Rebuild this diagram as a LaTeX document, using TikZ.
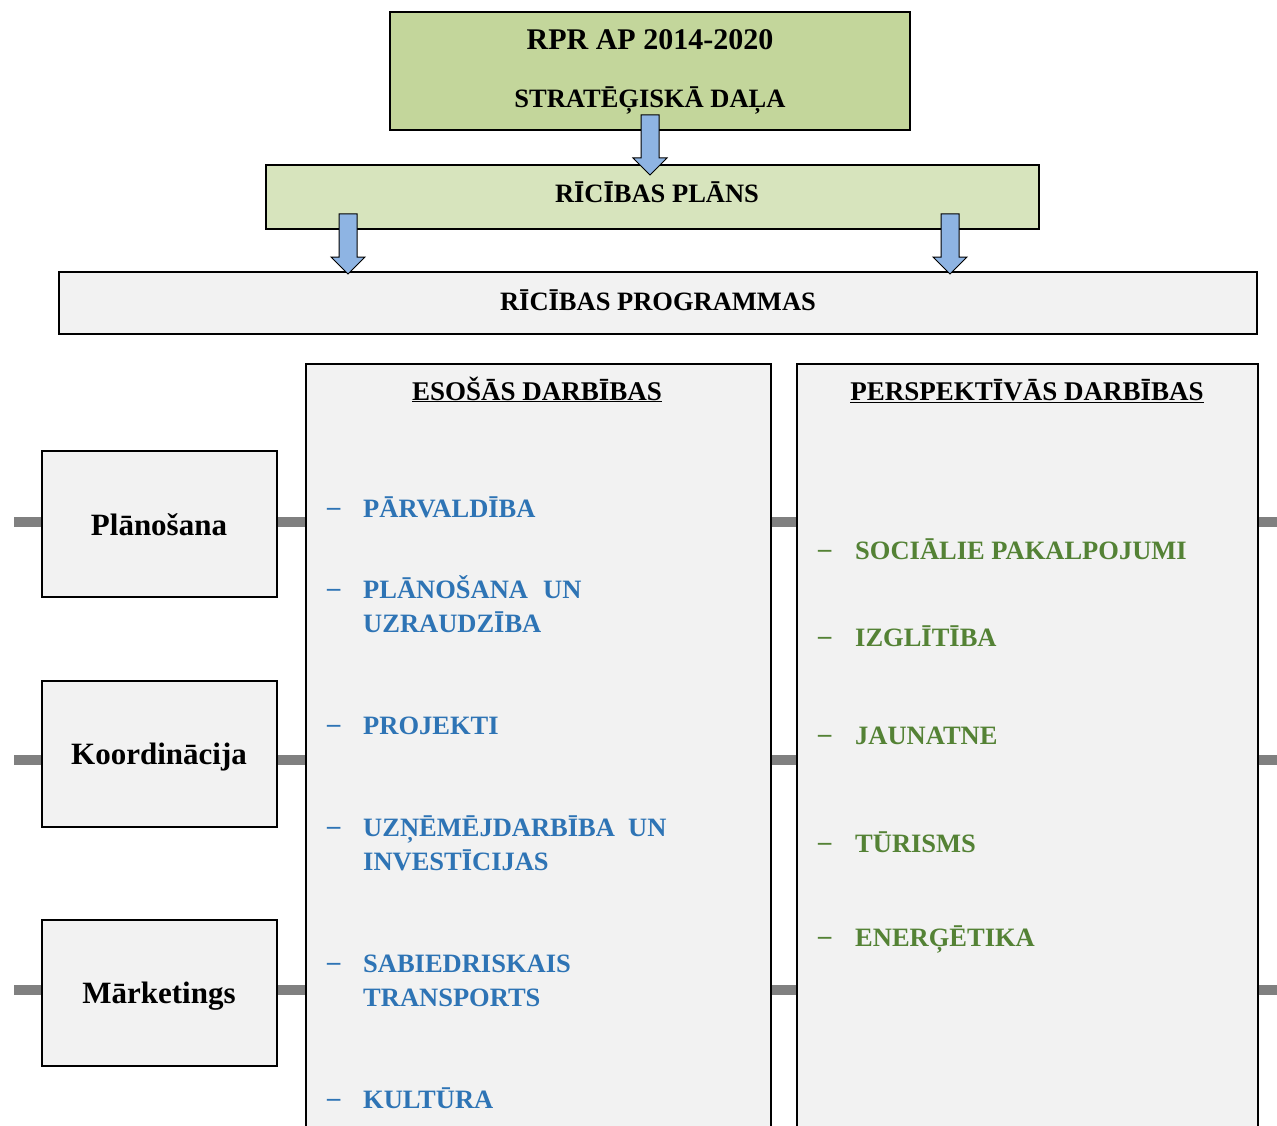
\documentclass[tikz,border=0pt]{standalone}
\usepackage{fontspec}
\setmainfont{Liberation Serif}
\definecolor{topgreen}{HTML}{C3D69B}
\definecolor{plangreen}{HTML}{D7E4BD}
\definecolor{boxgray}{HTML}{F2F2F2}
\definecolor{arrowblue}{HTML}{8EB4E3}
\definecolor{itemblue}{HTML}{2E74B5}
\definecolor{itemgreen}{HTML}{548235}
\definecolor{bargray}{HTML}{808080}
\begin{document}
\begin{tikzpicture}[x=1pt,y=-1pt,
  box/.style={draw=black,line width=1.6pt,inner sep=0pt},
  capt/.style={font=\fontsize{26.5}{30}\selectfont\bfseries,anchor=base,inner sep=0pt},
  lbl/.style={font=\fontsize{31}{34}\selectfont\bfseries,anchor=base,inner sep=0pt},
  blueitem/.style={font=\fontsize{26.5}{30}\selectfont\bfseries,text=itemblue,anchor=base west,inner sep=0pt},
  greenitem/.style={font=\fontsize{26.5}{30}\selectfont\bfseries,text=itemgreen,anchor=base west,inner sep=0pt},
  itemdash/.style={line width=2.5pt},
  bar/.style={draw=bargray,line width=10pt},
  downarrow/.style={fill=arrowblue,draw=black,line width=1pt,line join=miter}
]
\useasboundingbox (0,0) rectangle (1277,1126);

% gray connector bars (behind)
\coordinate (b1l) at (14,522);
\coordinate (b1r) at (1277,522);
\coordinate (b2l) at (14,760);
\coordinate (b2r) at (1277,760);
\coordinate (b3l) at (14,990);
\coordinate (b3r) at (1277,990);
\draw[bar] (b1l) -- (b1r);
\draw[bar] (b2l) -- (b2r);
\draw[bar] (b3l) -- (b3r);

% top boxes
\node[box,fill=topgreen,minimum width=520pt,minimum height=118pt] (top) at (650,71) {};
\node[box,fill=plangreen,minimum width=773pt,minimum height=64pt] (plan) at (652.5,197) {};
\node[box,fill=boxgray,minimum width=1198pt,minimum height=62pt] (prog) at (658,303) {};

\node[capt,font=\fontsize{30}{32}\selectfont\bfseries] (t1) at (650,50) {RPR AP 2014-2020};
\node[capt] (t2) at (650,108) {STRATĒĢISKĀ DAĻA};
\node[capt] (t3) at (657,203) {RĪCĪBAS PLĀNS};
\node[capt] (t4) at (658,310) {RĪCĪBAS PROGRAMMAS};

% arrows
\coordinate (a1) at (650,175);
\coordinate (a2) at (348,274);
\coordinate (a3) at (950,274);
\foreach \a in {a1,a2,a3}{
  \draw[downarrow] (\a) -- ++(-17,-17) -- ++(8,0) -- ++(0,-43) -- ++(18,0) -- ++(0,43) -- ++(8,0) -- cycle;
}

% columns
\node[box,fill=boxgray,minimum width=465pt,minimum height=780pt,anchor=north west] (eso) at (305,363) {};
\node[box,fill=boxgray,minimum width=461pt,minimum height=780pt,anchor=north west] (per) at (796,363) {};
\node[capt,font=\fontsize{27}{30}\selectfont\bfseries] (h1) at (537,400) {\underline{ESOŠĀS DARBĪBAS}};
\node[capt,font=\fontsize{27}{30}\selectfont\bfseries] (h2) at (1027,400) {\underline{PERSPEKTĪVĀS DARBĪBAS}};

% left boxes
\node[box,fill=boxgray,minimum width=235pt,minimum height=146pt] (pl) at (159.5,524) {};
\node[box,fill=boxgray,minimum width=235pt,minimum height=146pt] (ko) at (159.5,754) {};
\node[box,fill=boxgray,minimum width=235pt,minimum height=146pt] (ma) at (159.5,993) {};
\node[lbl] (plt) at (159,535) {Plānošana};
\node[lbl] (kot) at (159,764) {Koordinācija};
\node[lbl] (mat) at (159,1003) {Mārketings};

% blue items
\foreach \y/\n in {515/d1,596/d2,732/d3,834/d4,970/d5,1106/d6}{
  \node[blueitem] (\n) at (327,\y) {–};
}
\node[blueitem] (e1) at (363,517) {PĀRVALDĪBA};
\node[blueitem] (e2) at (363,598) {PLĀNOŠANA};
\node[blueitem] (e2b) at (543,598) {UN};
\node[blueitem] (e2c) at (363,632) {UZRAUDZĪBA};
\node[blueitem] (e3) at (363,734) {PROJEKTI};
\node[blueitem] (e4) at (363,836) {UZŅĒMĒJDARBĪBA};
\node[blueitem] (e4b) at (628,836) {UN};
\node[blueitem] (e4c) at (363,870) {INVESTĪCIJAS};
\node[blueitem] (e5) at (363,972) {SABIEDRISKAIS};
\node[blueitem] (e5c) at (363,1006) {TRANSPORTS};
\node[blueitem] (e6) at (363,1108) {KULTŪRA};

% green items
\foreach \y/\n in {557/g1,644/g2,742/g3,850/g4,944/g5}{
  \node[greenitem] (\n) at (818,\y) {–};
}
\node[greenitem] (p1) at (855,559) {SOCIĀLIE PAKALPOJUMI};
\node[greenitem] (p2) at (855,646) {IZGLĪTĪBA};
\node[greenitem] (p3) at (855,744) {JAUNATNE};
\node[greenitem] (p4) at (855,852) {TŪRISMS};
\node[greenitem] (p5) at (855,946) {ENERĢĒTIKA};
\end{tikzpicture}
\end{document}
